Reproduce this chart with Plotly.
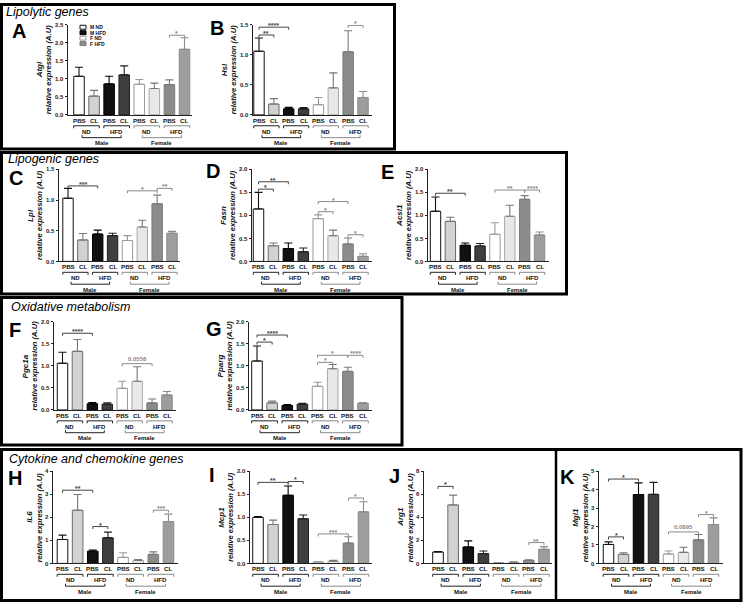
import plotly.graph_objects as go

W, H = 744, 607

# ---------------- data ----------------
bar_labels = ["PBS", "CL", "PBS", "CL", "PBS", "CL", "PBS", "CL"]
diet_labels = ["ND", "HFD", "ND", "HFD"]
sex_labels = ["Male", "Female"]
legend_labels = ["M ND", "M HFD", "F ND", "F HFD"]

atgl_mean = [1.07, 0.52, 0.86, 1.11, 0.85, 0.73, 0.84, 1.82]
atgl_sem = [0.25, 0.16, 0.21, 0.25, 0.13, 0.15, 0.13, 0.32]
atgl_sig = [(6, 7, 2.21, "*")]

hsl_mean = [1.06, 0.18, 0.10, 0.10, 0.17, 0.45, 1.05, 0.29]
hsl_sem = [0.22, 0.09, 0.025, 0.02, 0.12, 0.25, 0.35, 0.10]
hsl_sig = [(0, 2, 1.46, "****"), (0, 1, 1.33, "**"), (6, 7, 1.49, "*")]

lpl_mean = [1.03, 0.35, 0.445, 0.42, 0.34, 0.56, 0.94, 0.46]
lpl_sem = [0.16, 0.105, 0.065, 0.04, 0.08, 0.11, 0.14, 0.03]
lpl_sig = [(0, 2, 1.23, "***"), (4, 6, 1.15, "*"), (6, 7, 1.19, "**")]

fasn_mean = [1.14, 0.34, 0.28, 0.21, 0.93, 0.56, 0.38, 0.11]
fasn_sem = [0.36, 0.06, 0.12, 0.08, 0.08, 0.12, 0.13, 0.055]
fasn_sig = [(0, 2, 1.73, "**"), (0, 1, 1.57, "*"), (4, 6, 1.30, "*"),
            (4, 5, 1.08, "*"), (6, 7, 0.58, "*")]

acsl1_mean = [1.09, 0.87, 0.35, 0.335, 0.59, 0.98, 1.35, 0.575]
acsl1_sem = [0.31, 0.09, 0.05, 0.055, 0.25, 0.24, 0.08, 0.065]
acsl1_sig = [(0, 2, 1.48, "**"), (4, 6, 1.55, "**"), (6, 7, 1.55, "****")]

pgc1a_mean = [1.06, 1.33, 0.14, 0.13, 0.49, 0.65, 0.16, 0.34]
pgc1a_sem = [0.25, 0.27, 0.03, 0.03, 0.16, 0.33, 0.09, 0.08]
pgc1a_sig = [(0, 2, 1.74, "****"), (4, 6, 1.05, "0.0558")]

pparg_mean = [1.11, 0.16, 0.10, 0.13, 0.535, 0.935, 0.875, 0.15]
pparg_sem = [0.34, 0.04, 0.02, 0.02, 0.095, 0.095, 0.095, 0.02]
pparg_sig = [(0, 2, 1.70, "****"), (0, 1, 1.54, "*"), (4, 6, 1.24, "*"),
             (4, 5, 1.08, "*"), (6, 7, 1.24, "****")]

il6_mean = [1.04, 2.31, 0.53, 1.11, 0.26, 0.13, 0.39, 1.82]
il6_sem = [0.19, 0.68, 0.05, 0.25, 0.20, 0.04, 0.11, 0.32]
il6_sig = [(0, 2, 3.18, "**"), (2, 3, 1.60, "*"), (6, 7, 2.31, "***")]

mcp1_mean = [1.00, 0.845, 1.48, 0.97, 0.03, 0.05, 0.44, 1.12]
mcp1_sem = [0.02, 0.095, 0.20, 0.08, 0.01, 0.02, 0.14, 0.22]
mcp1_sig = [(0, 2, 1.76, "**"), (2, 3, 1.78, "*"), (4, 6, 0.64, "***"), (6, 7, 1.42, "*")]

arg1_mean = [0.99, 5.08, 1.43, 0.85, 0.06, 0.10, 0.26, 1.23]
arg1_sem = [0.03, 0.85, 0.53, 0.23, 0.02, 0.03, 0.06, 0.23]
arg1_sig = [(0, 1, 6.69, "*"), (6, 7, 1.81, "**")]

mgl1_mean = [1.03, 0.49, 3.74, 3.75, 0.51, 0.60, 1.28, 2.11]
mgl1_sem = [0.14, 0.09, 0.63, 0.65, 0.16, 0.28, 0.29, 0.36]
mgl1_sig = [(0, 2, 4.58, "*"), (0, 1, 1.44, "*"), (4, 6, 1.71, "0.0895"), (6, 7, 2.65, "*")]

# ---------------- styles / layout ----------------
fills = ["#ffffff", "#d2d2d2", "#111111", "#3f3f3f", "#ffffff", "#e8e8e8", "#8b8b8b", "#9d9d9d"]
edges = ["#111111", "#6a6a6a", "#000000", "#1e1e1e", "#9a9a9a", "#a8a8a8", "#7a7a7a", "#8a8a8a"]
legend_fill = ["#ffffff", "#111111", "#ffffff", "#8b8b8b"]
legend_edge = ["#111111", "#000000", "#9a9a9a", "#7a7a7a"]

FONT = "Liberation Sans, Arial, sans-serif"
rows = [(22, 113), (168, 261), (322, 411), (473, 566)]  # (pixel of top value, pixel of zero)

panels = [
    dict(letter="A", lp=(19, 28), gene="Atgl", mean=atgl_mean, sem=atgl_sem, sig=atgl_sig,
         ymax=2.5, dtick=0.5, dec=True, row=0, x0=68, c1=79, sp=15.07, xend=192),
    dict(letter="B", lp=(217, 25), gene="Hsl", mean=hsl_mean, sem=hsl_sem, sig=hsl_sig,
         ymax=1.5, dtick=0.5, dec=True, row=0, x0=253, c1=259, sp=14.86, xend=372),
    dict(letter="C", lp=(16, 177), gene="Lpl", mean=lpl_mean, sem=lpl_sem, sig=lpl_sig,
         ymax=1.5, dtick=0.5, dec=True, row=1, x0=59, c1=68, sp=14.86, xend=180),
    dict(letter="D", lp=(213, 170), gene="Fasn", mean=fasn_mean, sem=fasn_sem, sig=fasn_sig,
         ymax=2.0, dtick=0.5, dec=True, row=1, x0=252, c1=258.5, sp=14.93, xend=372),
    dict(letter="E", lp=(387, 171), gene="Acsl1", mean=acsl1_mean, sem=acsl1_sem, sig=acsl1_sig,
         ymax=2.0, dtick=0.5, dec=True, row=1, x0=428, c1=435.5, sp=14.86, xend=549),
    dict(letter="F", lp=(15, 330), gene="Pgc1a", mean=pgc1a_mean, sem=pgc1a_sem, sig=pgc1a_sig,
         ymax=2.0, dtick=0.5, dec=True, row=2, x0=54, c1=62.5, sp=14.93, xend=176),
    dict(letter="G", lp=(214, 329), gene="Pparg", mean=pparg_mean, sem=pparg_sem, sig=pparg_sig,
         ymax=2.0, dtick=0.5, dec=True, row=2, x0=249, c1=257, sp=15.14, xend=372),
    dict(letter="H", lp=(15, 480), gene="IL6", mean=il6_mean, sem=il6_sem, sig=il6_sig,
         ymax=4, dtick=1, dec=False, row=3, x0=53, c1=62.5, sp=15.14, xend=178),
    dict(letter="I", lp=(212, 477), gene="Mcp1", mean=mcp1_mean, sem=mcp1_sem, sig=mcp1_sig,
         ymax=2.0, dtick=0.5, dec=True, row=3, x0=250, c1=258, sp=15.07, xend=372),
    dict(letter="J", lp=(394, 478), gene="Arg1", mean=arg1_mean, sem=arg1_sem, sig=arg1_sig,
         ymax=8, dtick=2, dec=False, row=3, x0=424, c1=438, sp=15.14, xend=552),
    dict(letter="K", lp=(567, 479), gene="Mgl1", mean=mgl1_mean, sem=mgl1_sem, sig=mgl1_sig,
         ymax=5, dtick=1, dec=False, row=3, x0=599, c1=608.5, sp=15.0, xend=723),
]

sections = [("Lipolytic genes", 5, 9.5), ("Lipogenic genes", 7, 157.5),
            ("Oxidative metabolism", 10, 307.5), ("Cytokine and chemokine genes", 8, 461)]
boxes = [(1.5, 1.5, 394.5, 147.5), (1.5, 151, 566.5, 294), (1.5, 297.5, 402, 446.5),
         (1.5, 451, 741, 603.5)]


def pxx(p):
    return p / W


def pyy(p):
    return 1 - p / H


fig = go.Figure()
layout = dict(width=W, height=H, margin=dict(l=0, r=0, t=0, b=0),
              paper_bgcolor="white", plot_bgcolor="white", showlegend=False,
              barmode="overlay", font=dict(family=FONT, color="#111"))
annotations = []
shapes = []

for k, p in enumerate(panels):
    n = k + 1
    xa = "x" if n == 1 else f"x{n}"
    ya = "y" if n == 1 else f"y{n}"
    ytop, y0 = rows[p["row"]]
    xr = [(p["x0"] - p["c1"]) / p["sp"], (p["xend"] - p["c1"]) / p["sp"]]
    nt = int(round(p["ymax"] / p["dtick"]))
    tv = [i * p["dtick"] for i in range(nt + 1)]
    tt = [f"{v:.1f}" if p["dec"] else f"{int(v)}" for v in tv]
    layout[f"xaxis{'' if n == 1 else n}"] = dict(
        domain=[pxx(p["x0"]), pxx(p["xend"])], range=xr, anchor=ya,
        showline=True, linecolor="#222", linewidth=1, showgrid=False, zeroline=False,
        showticklabels=False, ticks="", fixedrange=True)
    layout[f"yaxis{'' if n == 1 else n}"] = dict(
        domain=[pyy(y0), pyy(ytop)], range=[0, p["ymax"]], anchor=xa,
        showline=True, linecolor="#222", linewidth=1, showgrid=False, zeroline=False,
        ticks="outside", ticklen=2.5, tickwidth=1, tickcolor="#222",
        tickvals=tv, ticktext=tt, tickfont=dict(size=6, family=FONT, weight="bold", color="#222"),
        fixedrange=True)

    for i in range(8):
        fig.add_trace(go.Bar(
            x=[i], y=[p["mean"][i]], width=0.7, xaxis=xa, yaxis=ya,
            marker=dict(color=fills[i], line=dict(color=edges[i], width=1)),
            error_y=dict(type="data", array=[p["sem"][i]], arrayminus=[0], symmetric=False,
                         color=edges[i] if i not in (1, 5) else "#777", thickness=1.1, width=4),
            cliponaxis=False, hoverinfo="skip"))

    # significance brackets
    dd = 2.5 * p["ymax"] / (y0 - ytop)
    for (a, b, h, txt) in p["sig"]:
        col = "#444" if a < 4 else "#8a8a8a"
        shapes.append(dict(type="path", xref=xa, yref=ya,
                           path=f"M {a},{h - dd} L {a},{h} L {b},{h} L {b},{h - dd}",
                           line=dict(color=col, width=1)))
        star = txt.startswith("*")
        annotations.append(dict(x=(a + b) / 2, y=h, xref=xa, yref=ya, text=f"<b>{txt}</b>",
                                showarrow=False, yanchor="bottom", yshift=-4 if star else 0,
                                font=dict(size=7 if star else 6, color=col)))

    # x labels
    for i, lab in enumerate(bar_labels):
        annotations.append(dict(x=i, y=pyy(y0 + 5.5), xref=xa, yref="paper",
                                text=f"<b>{lab}</b>", showarrow=False, yanchor="middle",
                                font=dict(size=6.2, color="#111")))
    for g, lab in enumerate(diet_labels):
        col = "#222" if g < 2 else "#8a8a8a"
        a, b = 2 * g - 0.35, 2 * g + 1.35
        shapes.append(dict(type="path", xref=xa, yref="paper",
                           path=f"M {a},{pyy(y0 + 13.5)} L {a},{pyy(y0 + 11)} L {b},{pyy(y0 + 11)} L {b},{pyy(y0 + 13.5)}",
                           line=dict(color=col, width=1)))
        annotations.append(dict(x=2 * g + 0.5, y=pyy(y0 + 17), xref=xa, yref="paper",
                                text=f"<b>{lab}</b>", showarrow=False, yanchor="middle",
                                font=dict(size=6, color="#111")))
    for s, lab in enumerate(sex_labels):
        col = "#222" if s == 0 else "#8a8a8a"
        a, b = 4 * s + 0.2, 4 * s + 2.8
        shapes.append(dict(type="path", xref=xa, yref="paper",
                           path=f"M {a},{pyy(y0 + 20.5)} L {a},{pyy(y0 + 23)} L {b},{pyy(y0 + 23)} L {b},{pyy(y0 + 20.5)}",
                           line=dict(color=col, width=1)))
        annotations.append(dict(x=4 * s + 1.5, y=pyy(y0 + 28.5), xref=xa, yref="paper",
                                text=f"<b>{lab}</b>", showarrow=False, yanchor="middle",
                                font=dict(size=6, color="#111")))

    # y titles
    off_g, off_t = (-28.5, -19.5) if p["dec"] else (-23.5, -14)
    yc = (ytop + y0) / 2
    annotations.append(dict(x=pxx(p["x0"] + off_g), y=pyy(yc), xref="paper", yref="paper",
                            text=f"<b><i>{p['gene']}</i></b>", textangle=-90, showarrow=False,
                            borderpad=0, xanchor="center", yanchor="middle",
                            font=dict(size=8, color="#111")))
    annotations.append(dict(x=pxx(p["x0"] + off_t), y=pyy(yc), xref="paper", yref="paper",
                            text="<b><i>relative expression (A.U)</i></b>", textangle=-90,
                            showarrow=False, borderpad=0, xanchor="center", yanchor="middle",
                            font=dict(size=7.6, color="#111")))
    # panel letter
    annotations.append(dict(x=pxx(p["lp"][0]), y=pyy(p["lp"][1]), xref="paper", yref="paper",
                            text=f"<b>{p['letter']}</b>", showarrow=False, borderpad=0,
                            xanchor="center", yanchor="middle", font=dict(size=20, color="#000")))

# section titles
for (t, x, y) in sections:
    annotations.append(dict(x=pxx(x), y=pyy(y), xref="paper", yref="paper", text=f"<i>{t}</i>",
                            showarrow=False, xanchor="left", yanchor="middle", borderpad=0,
                            font=dict(size=12.5, color="#000")))

# boxes
for (x1, y1, x2, y2) in boxes:
    shapes.append(dict(type="rect", xref="paper", yref="paper", x0=pxx(x1), x1=pxx(x2),
                       y0=pyy(y2), y1=pyy(y1), line=dict(color="#000", width=3)))
shapes.append(dict(type="line", xref="paper", yref="paper", x0=pxx(556), x1=pxx(556),
                   y0=pyy(603.5), y1=pyy(451), line=dict(color="#000", width=2.5)))

# legend (panel A)
for r, lab in enumerate(legend_labels):
    cy = 24.5 + r * 5.5
    shapes.append(dict(type="rect", xref="paper", yref="paper", x0=pxx(80), x1=pxx(86),
                       y0=pyy(cy + 2), y1=pyy(cy - 2), fillcolor=legend_fill[r],
                       line=dict(color=legend_edge[r], width=1)))
    annotations.append(dict(x=pxx(88), y=pyy(cy), xref="paper", yref="paper", text=f"<b>{lab}</b>",
                            showarrow=False, xanchor="left", yanchor="middle",
                            font=dict(size=5, color="#111")))

layout["annotations"] = annotations
layout["shapes"] = shapes
fig.update_layout(**layout)
fig.write_html("out.html", config={"displayModeBar": False, "staticPlot": True},
               post_script="document.body.style.margin='0px';document.body.style.overflow='hidden';")
